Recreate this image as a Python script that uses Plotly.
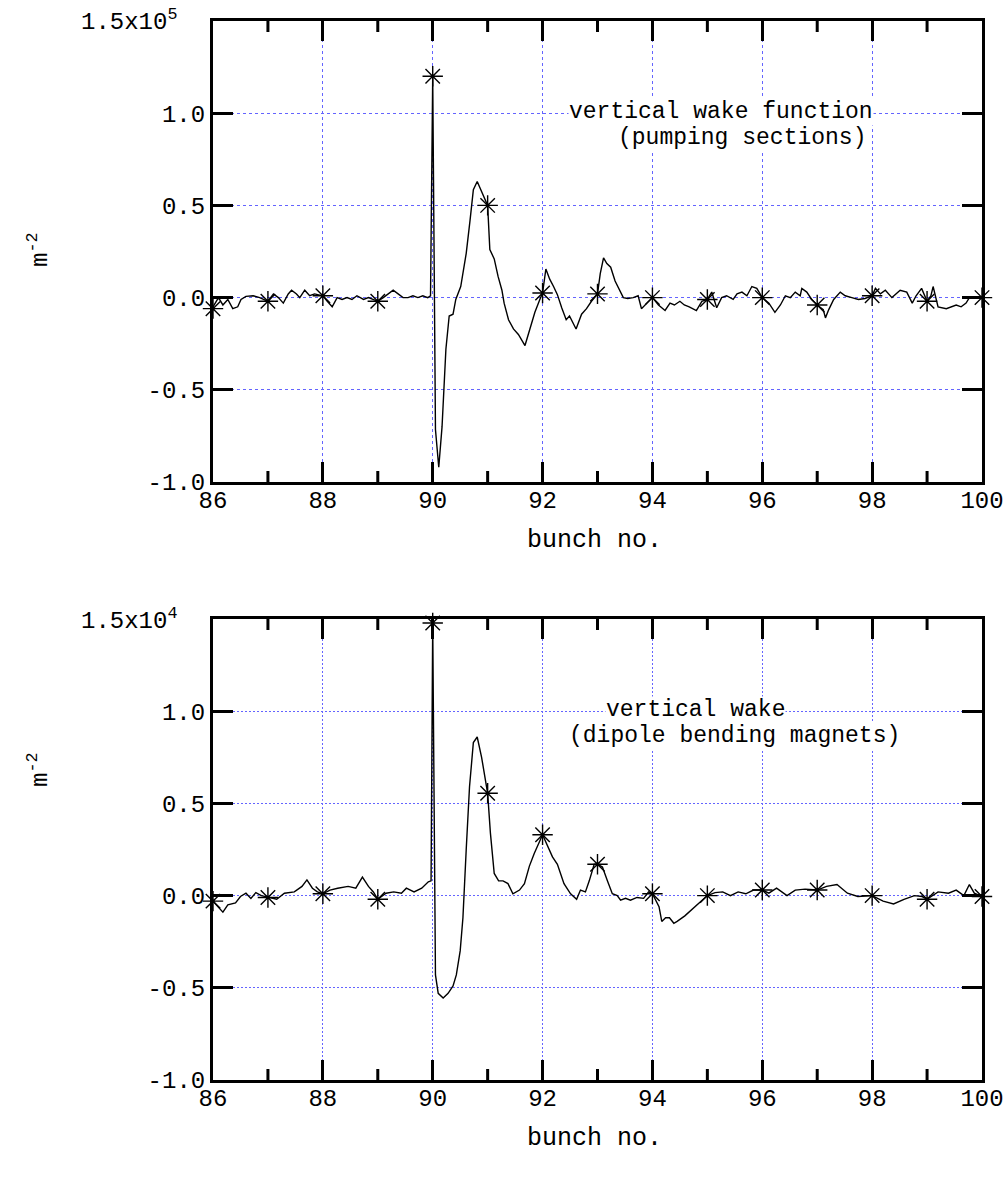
import plotly.graph_objects as go

# ---------------- data ----------------
bunches = list(range(86, 101))

# top: vertical wake function (pumping sections), units 1e5 m^-2
top_x = [
    86.0, 86.1, 86.18, 86.27, 86.36, 86.45, 86.51, 86.6, 86.73, 86.85,
    87.0, 87.1, 87.19, 87.28, 87.37, 87.43, 87.52, 87.58, 87.67, 87.76, 87.85,
    88.0, 88.08, 88.17, 88.26, 88.35, 88.44, 88.53, 88.62, 88.74, 88.83,
    89.0, 89.1, 89.19, 89.28, 89.37, 89.46, 89.55, 89.64, 89.73, 89.82, 89.91, 89.96,
    90.0, 90.05, 90.11, 90.17, 90.24, 90.3, 90.37, 90.42, 90.51, 90.61, 90.68, 90.74, 90.81, 90.89,
    91.0, 91.04, 91.12, 91.19, 91.26, 91.3, 91.38, 91.47, 91.56, 91.68, 91.77, 91.86, 91.95,
    92.0, 92.06, 92.13, 92.2, 92.27, 92.35, 92.43, 92.49, 92.61, 92.71, 92.8, 92.89,
    93.0, 93.05, 93.11, 93.17, 93.24, 93.32, 93.4, 93.47, 93.55, 93.65, 93.74, 93.8, 93.9,
    94.0, 94.11, 94.23, 94.32, 94.4, 94.5, 94.58, 94.67, 94.8, 94.9,
    95.0, 95.08, 95.17, 95.26, 95.35, 95.47, 95.54, 95.63, 95.72, 95.81, 95.9,
    96.0, 96.12, 96.23, 96.33, 96.42, 96.51, 96.6, 96.69, 96.72, 96.81, 96.9,
    97.0, 97.11, 97.15, 97.21, 97.3, 97.42, 97.51, 97.63, 97.75, 97.87,
    98.0, 98.06, 98.15, 98.24, 98.36, 98.51, 98.63, 98.73, 98.8, 98.9,
    99.0, 99.07, 99.11, 99.2, 99.35, 99.53, 99.62, 99.71, 99.77, 99.9,
    100.0,
]
top_y = [
    -0.05, 0.0, -0.04, -0.01, -0.06, -0.05, -0.01, 0.007, 0.01, 0.0,
    -0.02, 0.02, 0.0, -0.03, 0.02, 0.04, 0.02, 0.0, 0.04, 0.01, 0.02,
    0.01, -0.02, -0.05, 0.0, -0.01, 0.0, -0.01, 0.01, -0.01, 0.0,
    -0.02, 0.0, 0.02, 0.04, 0.02, 0.0, 0.0, 0.01, 0.0, 0.01, 0.0, 0.01,
    1.2, -0.715, -0.92, -0.70, -0.28, -0.10, -0.09, -0.01, 0.06, 0.24, 0.42, 0.585, 0.63, 0.575,
    0.5, 0.26, 0.21, 0.115, 0.04, -0.03, -0.12, -0.17, -0.20, -0.26, -0.17, -0.08, -0.01,
    0.025, 0.155, 0.10, 0.06, 0.016, -0.056, -0.12, -0.10, -0.17, -0.09, -0.06, -0.02,
    0.02, 0.13, 0.215, 0.185, 0.165, 0.09, 0.045, 0.0, -0.005, 0.0, 0.01, -0.06, -0.03,
    0.0, -0.04, -0.07, -0.03, -0.04, -0.02, -0.04, -0.05, -0.07, -0.02,
    -0.01, 0.03, -0.055, 0.0, 0.01, -0.01, 0.02, 0.03, 0.01, 0.06, 0.05,
    0.0, -0.03, -0.08, -0.04, 0.01, 0.0, 0.03, 0.01, 0.05, 0.03, -0.01,
    -0.04, -0.065, -0.11, -0.065, -0.01, 0.03, 0.01, 0.0, -0.01, -0.005,
    0.01, 0.05, 0.02, 0.04, 0.0, 0.04, 0.03, -0.03, 0.01, 0.05,
    -0.02, 0.01, 0.06, -0.05, -0.06, -0.04, -0.05, -0.03, 0.0, 0.0,
    0.0,
]
top_stars = [-0.06, -0.02, 0.01, -0.02, 1.20, 0.50, 0.025, 0.02, 0.0, -0.01, 0.0, -0.04, 0.01, -0.02, 0.0]

# bottom: vertical wake (dipole bending magnets), units 1e4 m^-2
bot_x = [
    86.0, 86.18, 86.27, 86.41, 86.5, 86.6, 86.69, 86.78, 86.88,
    87.0, 87.16, 87.3, 87.48, 87.62, 87.71, 87.81, 87.9,
    88.0, 88.13, 88.27, 88.46, 88.6, 88.72, 88.83, 88.92,
    89.0, 89.15, 89.29, 89.43, 89.52, 89.66, 89.8, 89.92, 89.97,
    90.0, 90.05, 90.1, 90.19, 90.28, 90.37, 90.43, 90.5, 90.55, 90.61, 90.67, 90.74, 90.81, 90.89, 90.95,
    91.0, 91.05, 91.12, 91.2, 91.28, 91.37, 91.46, 91.58, 91.67, 91.76, 91.85,
    92.0, 92.09, 92.18, 92.27, 92.39, 92.51, 92.62, 92.69, 92.78, 92.85, 92.94,
    93.0, 93.09, 93.18, 93.27, 93.36, 93.42, 93.51, 93.6, 93.72, 93.84, 93.93,
    94.0, 94.12, 94.17, 94.24, 94.31, 94.39, 94.45, 94.59, 94.77,
    95.0, 95.14, 95.28, 95.42, 95.56, 95.7, 95.84,
    96.0, 96.12, 96.26, 96.45, 96.6, 96.78,
    97.0, 97.17, 97.36, 97.55, 97.74,
    98.0, 98.2, 98.39, 98.58, 98.77, 98.91,
    99.0, 99.2, 99.39, 99.53, 99.67, 99.77, 99.86,
    100.0,
]
bot_y = [
    -0.03, -0.09, -0.05, -0.04, -0.005, 0.013, -0.015, 0.016, 0.0,
    -0.01, -0.02, 0.013, 0.02, 0.05, 0.085, 0.04, 0.02,
    0.01, 0.03, 0.04, 0.05, 0.04, 0.1, 0.05, 0.02,
    -0.02, 0.013, 0.02, 0.013, 0.04, 0.02, 0.04, 0.075, 0.08,
    1.478, -0.43, -0.53, -0.555, -0.53, -0.49, -0.43, -0.30, -0.12, 0.25, 0.59, 0.83, 0.86, 0.75, 0.63,
    0.555, 0.34, 0.12, 0.08, 0.08, 0.065, 0.01, 0.03, 0.065, 0.16, 0.23,
    0.33, 0.265, 0.21, 0.17, 0.065, 0.01, -0.02, 0.03, 0.02, 0.08, 0.17,
    0.17, 0.155, 0.08, 0.01, 0.0, -0.025, -0.015, -0.025, -0.01, -0.015, 0.02,
    0.01, -0.06, -0.14, -0.12, -0.12, -0.15, -0.14, -0.11, -0.06,
    0.0, 0.016, 0.02, 0.0, 0.02, 0.01, 0.03,
    0.03, 0.013, 0.04, 0.0, 0.03, 0.035,
    0.03, 0.05, 0.06, 0.013, -0.005,
    0.0, -0.03, -0.045, -0.02, 0.0, -0.005,
    -0.02, 0.02, 0.013, 0.03, 0.0, 0.06, 0.013,
    -0.005,
]
bot_stars = [-0.03, -0.01, 0.01, -0.02, 1.478, 0.555, 0.33, 0.17, 0.01, 0.0, 0.03, 0.03, 0.0, -0.02, -0.005]

x_minorvals = [87, 89, 91, 93, 95, 97, 99]
y_tickvals = [-1.0, -0.5, 0.0, 0.5, 1.0, 1.5]
y_ticktext = ["-1.0", "-0.5", "0.0", "0.5", "1.0", ""]
top_y_max_label = "1.5x10<sup>5</sup>"
bot_y_max_label = "1.5x10<sup>4</sup>"

# ---------------- figure ----------------
W, H = 1008, 1182
FONT = "Liberation Mono, Courier New, monospace"
GRID = "rgb(100,100,255)"

fig = go.Figure()
for x, y, stars, xa, ya in [(top_x, top_y, top_stars, "x", "y"),
                            (bot_x, bot_y, bot_stars, "x2", "y2")]:
    fig.add_trace(go.Scatter(x=x, y=y, mode="lines", line=dict(color="black", width=1.4),
                             xaxis=xa, yaxis=ya, showlegend=False, hoverinfo="skip"))
    fig.add_trace(go.Scatter(x=bunches, y=stars, mode="markers",
                             marker=dict(symbol="asterisk-open", size=17, color="black",
                                         line=dict(color="black", width=1.4)),
                             xaxis=xa, yaxis=ya, showlegend=False, hoverinfo="skip",
                             cliponaxis=False))

xdom = [213 / W, 982 / W]
top_dom = [1 - 482 / H, 1 - 21 / H]
bot_dom = [1 - 1080 / H, 1 - 619 / H]
PLOT_H = 461  # px height of each plot area
MINOR_LEN = 11  # px


def xaxis(anchor, dash):
    return dict(domain=xdom, anchor=anchor, range=[86, 100],
                tickmode="linear", tick0=86, dtick=2, automargin=False,
                showline=True, linecolor="black", linewidth=3, mirror="ticks",
                ticks="inside", ticklen=20, tickwidth=3, tickcolor="black",
                showgrid=True, gridcolor=GRID, gridwidth=1, griddash=dash,
                zeroline=False, tickfont=dict(family=FONT, size=24, color="black"),
                ticklabelstandoff=-6)


def yaxis(anchor, dom, dash):
    return dict(domain=dom, anchor=anchor, range=[-1.0, 1.5], tickmode="array",
                tickvals=y_tickvals, ticktext=y_ticktext, automargin=False,
                showline=True, linecolor="black", linewidth=3, mirror="ticks",
                ticks="inside", ticklen=20, tickwidth=3, tickcolor="black",
                showgrid=True, gridcolor=GRID, gridwidth=1, griddash=dash,
                zeroline=False, tickfont=dict(family=FONT, size=24, color="black"))


# minor x tick marks (odd bunch numbers) on the bottom and top frame of each plot
shapes = []
frac = MINOR_LEN / PLOT_H
for xr, yr in (("x", "y domain"), ("x2", "y2 domain")):
    for v in x_minorvals:
        for y0, y1 in ((0, frac), (1 - frac, 1)):
            shapes.append(dict(type="line", xref=xr, yref=yr, x0=v, x1=v, y0=y0, y1=y1,
                               line=dict(color="black", width=3), layer="above"))

annotations = []
for py in (540, 1138):
    annotations.append(dict(text="bunch no.", x=594 / W, y=1 - py / H, xref="paper", yref="paper",
                            showarrow=False, font=dict(family=FONT, size=25, color="black"),
                            xanchor="center", yanchor="middle"))
for py in (250, 770):
    annotations.append(dict(text="m<sup>-2</sup>", x=38 / W, y=1 - py / H, xref="paper", yref="paper",
                            showarrow=False, textangle=-90, font=dict(family=FONT, size=24, color="black"),
                            xanchor="center", yanchor="middle"))
for t, py in ((top_y_max_label, 21), (bot_y_max_label, 619)):
    annotations.append(dict(text=t, x=180 / W, y=1 - py / H, xref="paper", yref="paper",
                            showarrow=False, font=dict(family=FONT, size=24, color="black"),
                            xanchor="right", yanchor="middle"))

labels = [
    ("vertical wake function", 721, 112),
    ("(pumping sections)", 742, 138),
    ("vertical wake", 695, 710),
    ("(dipole bending magnets)", 734, 736),
]
for t, px, py in labels:
    annotations.append(dict(text=t, x=px / W, y=1 - py / H, xref="paper", yref="paper",
                            showarrow=False, font=dict(family=FONT, size=23, color="black"),
                            xanchor="center", yanchor="middle", bgcolor="white", borderpad=0))

fig.update_layout(
    template="none",
    width=W, height=H,
    margin=dict(l=0, r=0, t=0, b=0, autoexpand=False),
    paper_bgcolor="white", plot_bgcolor="white",
    xaxis=xaxis("y", "3px,3px"),
    yaxis=yaxis("x", top_dom, "3px,3px"),
    xaxis2=xaxis("y2", "2px,2px"),
    yaxis2=yaxis("x2", bot_dom, "2px,2px"),
    shapes=shapes,
    annotations=annotations,
    font=dict(family=FONT, color="black"),
)

fig.write_html("out.html", config={"displayModeBar": False})
